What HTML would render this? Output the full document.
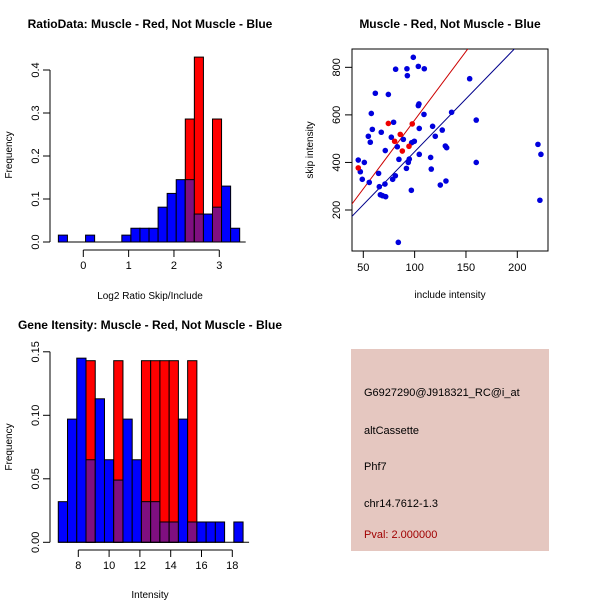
<!DOCTYPE html>
<html><head><meta charset="utf-8"><style>
body{margin:0;background:#fff}
svg text{font-family:"Liberation Sans",sans-serif}
</style></head><body>
<svg id="c" width="600" height="600" xmlns="http://www.w3.org/2000/svg">
<text x="150" y="28" font-size="12" font-weight="bold" text-anchor="middle">RatioData: Muscle - Red, Not Muscle - Blue</text>
<text x="450" y="28" font-size="12" font-weight="bold" text-anchor="middle">Muscle - Red, Not Muscle - Blue</text>
<text x="150" y="329" font-size="12" font-weight="bold" text-anchor="middle">Gene Itensity: Muscle - Red, Not Muscle - Blue</text>
<text x="150" y="299" font-size="10" text-anchor="middle">Log2 Ratio Skip/Include</text>
<text x="150" y="598" font-size="10" text-anchor="middle">Intensity</text>
<text x="450" y="298" font-size="10" text-anchor="middle">include intensity</text>
<text transform="translate(12,155) rotate(-90)" font-size="10" text-anchor="middle">Frequency</text>
<text transform="translate(12,447) rotate(-90)" font-size="10" text-anchor="middle">Frequency</text>
<text transform="translate(313,150) rotate(-90)" font-size="10" text-anchor="middle">skip intensity</text>
<g id="g1"></g>
<g id="g2"></g>
<g id="g3"></g>
<g>
<rect x="351" y="349" width="198" height="202" fill="#e5c7c0"/>
<text x="364" y="396" font-size="11">G6927290@J918321_RC@i_at</text>
<text x="364" y="434" font-size="11">altCassette</text>
<text x="364" y="470" font-size="11">Phf7</text>
<text x="364" y="507" font-size="11">chr14.7612-1.3</text>
<text x="364" y="538" font-size="11" fill="#a00000">Pval: 2.000000</text>
</g>
</svg>
<script>
// Ratio histogram data
const ratioBreakStart = -0.55, ratioBinWidth = 0.2;
const ratioBlue = [0.016,0,0,0.016,0,0,0,0.016,0.032,0.032,0.032,0.081,0.113,0.145,0.145,0.065,0.065,0.081,0.13,0.032];
const ratioRed  = [0,0,0,0,0,0,0,0,0,0,0,0,0,0,0.286,0.43,0,0.286,0,0];
const ratioXTicks = [0,1,2,3];
const ratioYTicks = ["0.0","0.1","0.2","0.3","0.4"];
// Intensity histogram data
const intBreakStart = 6.7, intBinWidth = 0.6;
const intBlue = [0.032,0.097,0.145,0.065,0.113,0.065,0.049,0.097,0.065,0.032,0.032,0.016,0.016,0.097,0.016,0.016,0.016,0.016,0,0.016];
const intRed  = [0,0,0,0.143,0,0,0.143,0,0,0.143,0.143,0.143,0.143,0,0.143,0,0,0,0,0];
const intXTicks = [8,10,12,14,16,18];
const intYTicks = ["0.00","0.05","0.10","0.15"];
// Scatter data
const blueX = [45.1,47.1,49,51,55.8,54.9,56.8,57.8,58.8,61.7,64.9,65.6,66.6,67.5,68.8,71.1,71.4,71.8,74.4,77.3,78.6,79.5,81.2,81.5,83.1,84.7,84.1,89,92,92.5,92.9,93.8,94.8,96.8,97.1,98.7,99.7,103.6,103.6,104.2,104.5,104.5,109.1,109.4,115.6,116.2,117.5,120.1,125,126.9,129.9,131.2,130.5,136,153.6,160,160,220.1,223,222];
const blueY = [410,361,329,400,316,510,485,606,539,691,354,298,264,527,260,309,450,256,686,506,329,569,344,792,466,413,64,497,375,794,765,400,414,283,483,842,489,804,639,646,434,543,602,794,421,372,552,510,305,536,469,462,322,611,752,578,400,476,434,241];
const redX = [45.1,74.4,80.5,86,88,94.5,97.7];
const redY = [377,564,489,518,448,468,562];
const redSlope = 5.78, blueSlope = 4.45;
const scXTicks = [50,100,150,200];
const scYTicks = [200,400,600,800];

const NS = "http://www.w3.org/2000/svg";
function mk(parent, tag, attrs){const e=document.createElementNS(NS,tag);for(const k in attrs)e.setAttribute(k,attrs[k]);parent.appendChild(e);return e;}

function hist(g, start, bw, blue, red, xs, ys, xTicks, yTicks, yStep, baseY, axisY, prefix){
  const purple="#7f0f80";
  for(let i=0;i<blue.length;i++){
    const x0=xs(start+i*bw), x1=xs(start+(i+1)*bw);
    const b=blue[i], r=red[i];
    if(b>0){const e=mk(g,"rect",{x:x0,y:ys(b),width:x1-x0,height:ys(0)-ys(b),fill:"#0000ff",stroke:"#000","stroke-width":1});
      
      }
    if(r>0){const e=mk(g,"rect",{x:x0,y:ys(r),width:x1-x0,height:ys(0)-ys(r),fill:"#ff0000",stroke:"#000","stroke-width":1});
      
      }
    if(r>0&&b>0){const m=Math.min(r,b);const e=mk(g,"rect",{x:x0,y:ys(m),width:x1-x0,height:ys(0)-ys(m),fill:purple,stroke:"#000","stroke-width":1});
      
      }
  }
  const bl=mk(g,"line",{x1:xs(start),x2:xs(start+blue.length*bw)+6,y1:ys(0),y2:ys(0),stroke:"#000"});
  
  
  const ax=mk(g,"line",{x1:xs(xTicks[0]),x2:xs(xTicks[xTicks.length-1]),y1:axisY,y2:axisY,stroke:"#000"});
  
  
  xTicks.forEach(t=>{mk(g,"line",{x1:xs(t),x2:xs(t),y1:axisY,y2:axisY+7,stroke:"#000"});
    const tx=mk(g,"text",{x:xs(t),y:axisY+19,"font-size":11,"text-anchor":"middle"});tx.textContent=t;
    
    });
  const ay=mk(g,"line",{x1:50,x2:50,y1:ys(parseFloat(yTicks[yTicks.length-1])),y2:ys(0),stroke:"#000"});
  
  
  yTicks.forEach(t=>{const y=ys(parseFloat(t));mk(g,"line",{x1:43,x2:50,y1:y,y2:y,stroke:"#000"});
    const tx=mk(g,"text",{transform:`translate(39,${y}) rotate(-90)`,"font-size":11,"text-anchor":"middle"});tx.textContent=t;
    
    });
}
// ratio histogram scales
const rxs=v=>83.3+v*45.33, rys=v=>242-v*430;
hist(document.getElementById("g1"),ratioBreakStart,ratioBinWidth,ratioBlue,ratioRed,rxs,rys,ratioXTicks,ratioYTicks,0.1,242,250,"ratio");
const ixs=v=>78.3+(v-8)*15.4, iys=v=>542.3-v*1270;
hist(document.getElementById("g2"),intBreakStart,intBinWidth,intBlue,intRed,ixs,iys,intXTicks,intYTicks,0.05,542,550,"intensity");

// scatter
const g3=document.getElementById("g3");
const sx=v=>363.3+(v-50)*1.0267, sy=v=>210-(v-200)*0.2378;
const defs=mk(g3,"clipPath",{id:"clip"});mk(defs,"rect",{x:352,y:49,width:196,height:202});
const box=mk(g3,"rect",{x:352,y:49,width:196,height:202,fill:"none",stroke:"#000"});


const lg=mk(g3,"g",{"clip-path":"url(#clip)"});
const rl=mk(lg,"line",{x1:sx(30),y1:sy(30*redSlope),x2:sx(240),y2:sy(240*redSlope),stroke:"#cc0000"});


const bln=mk(lg,"line",{x1:sx(30),y1:sy(30*blueSlope),x2:sx(240),y2:sy(240*blueSlope),stroke:"#00008b"});


blueX.forEach((x,i)=>{const c=mk(g3,"circle",{cx:sx(x),cy:sy(blueY[i]),r:2.8,fill:"#0000dd"});
  
  });
redX.forEach((x,i)=>{const c=mk(g3,"circle",{cx:sx(x),cy:sy(redY[i]),r:2.8,fill:"#ee0000"});
  
  });
scXTicks.forEach(t=>{mk(g3,"line",{x1:sx(t),x2:sx(t),y1:251,y2:258,stroke:"#000"});
  const tx=mk(g3,"text",{x:sx(t),y:271,"font-size":11,"text-anchor":"middle"});tx.textContent=t;
  
  });
scYTicks.forEach(t=>{mk(g3,"line",{x1:345,x2:352,y1:sy(t),y2:sy(t),stroke:"#000"});
  const tx=mk(g3,"text",{transform:`translate(340,${sy(t)}) rotate(-90)`,"font-size":11,"text-anchor":"middle"});tx.textContent=t;
  
  });
</script>
</body></html>
